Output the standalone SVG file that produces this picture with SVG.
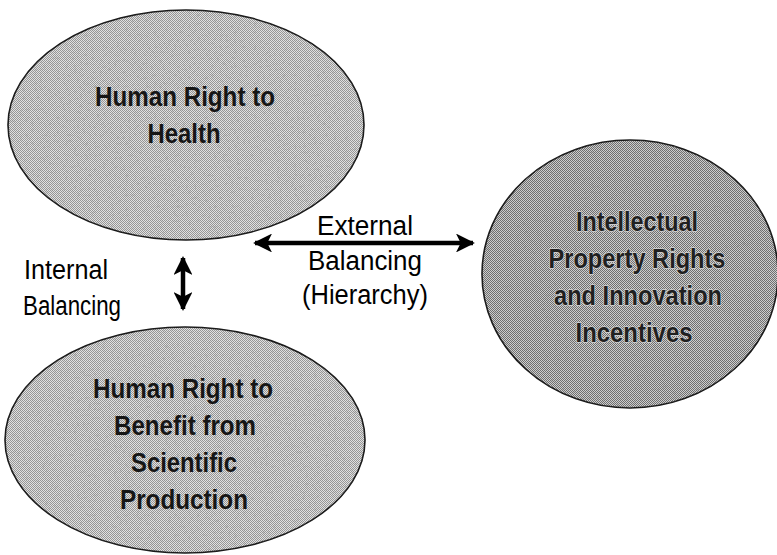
<svg xmlns="http://www.w3.org/2000/svg" width="777" height="555" viewBox="0 0 777 555">
  <defs>
    <pattern id="ditherLight" width="2" height="2" patternUnits="userSpaceOnUse">
      <rect width="2" height="2" fill="#e2e2e2"/>
      <rect x="0" y="0" width="1" height="1" fill="#969696"/>
      <rect x="1" y="1" width="1" height="1" fill="#969696"/>
    </pattern>
    <pattern id="ditherDark" width="2" height="2" patternUnits="userSpaceOnUse">
      <rect width="2" height="2" fill="#cfcfcf"/>
      <rect x="0" y="0" width="1" height="1" fill="#6e6e6e"/>
      <rect x="1" y="1" width="1" height="1" fill="#6e6e6e"/>
    </pattern>
    <filter id="grain" x="0" y="0" width="1" height="1">
      <feTurbulence type="fractalNoise" baseFrequency="0.35" numOctaves="2" seed="5" result="n"/>
      <feColorMatrix in="n" type="matrix" values="0 0 0 0 0.25  0 0 0 0 0.25  0 0 0 0 0.25  0 0 0 1.6 -0.85" result="m"/>
      <feComposite in="m" in2="SourceGraphic" operator="in"/>
    </filter>
    <marker id="head" viewBox="0 0 10 10" refX="9" refY="5" markerWidth="5" markerHeight="4.2" markerUnits="strokeWidth" orient="auto-start-reverse">
      <path d="M0,0 L10,5 L0,10 L2.5,5 Z" fill="#000"/>
    </marker>
  </defs>
  <style>
    .ell { stroke: #1a1a1a; stroke-width: 1.6; }
    .node { font-family: "Liberation Sans", Arial, sans-serif; font-weight: bold; font-size: 27px; fill: #161616; text-anchor: middle; }
    .dark { stroke: #d4d4d4; stroke-width: 1.4; paint-order: stroke; fill: #202020; }
    .lbl { font-family: "Liberation Sans", Arial, sans-serif; font-size: 27px; fill: #000; }
    .conn { stroke: #000; stroke-width: 4.5; fill: none; marker-start: url(#head); marker-end: url(#head); }
  </style>
  <rect width="777" height="555" fill="#fff"/>

  <g id="node-health">
    <ellipse class="ell" cx="186" cy="125" rx="178" ry="115" fill="url(#ditherLight)"/>
    <ellipse cx="186" cy="125" rx="178" ry="115" fill="#000" filter="url(#grain)" opacity="0.6"/>
    <text class="node" x="185" y="106" textLength="180" lengthAdjust="spacingAndGlyphs">Human Right to</text>
    <text class="node" x="184" y="143" textLength="73" lengthAdjust="spacingAndGlyphs">Health</text>
  </g>

  <g id="node-science">
    <ellipse class="ell" cx="185" cy="440" rx="180" ry="113" fill="url(#ditherLight)"/>
    <ellipse cx="185" cy="440" rx="180" ry="113" fill="#000" filter="url(#grain)" opacity="0.6"/>
    <text class="node" x="183" y="398" textLength="180" lengthAdjust="spacingAndGlyphs">Human Right to</text>
    <text class="node" x="185" y="435" textLength="142" lengthAdjust="spacingAndGlyphs">Benefit from</text>
    <text class="node" x="184" y="472" textLength="106" lengthAdjust="spacingAndGlyphs">Scientific</text>
    <text class="node" x="184" y="509" textLength="128" lengthAdjust="spacingAndGlyphs">Production</text>
  </g>

  <g id="node-ip">
    <ellipse class="ell" cx="630" cy="274" rx="148" ry="134" fill="url(#ditherDark)"/>
    <ellipse cx="630" cy="274" rx="148" ry="134" fill="#000" filter="url(#grain)" opacity="0.8"/>
    <text class="node dark" x="637" y="231" textLength="122" lengthAdjust="spacingAndGlyphs">Intellectual</text>
    <text class="node dark" x="637" y="268" textLength="177" lengthAdjust="spacingAndGlyphs">Property Rights</text>
    <text class="node dark" x="638" y="305" textLength="168" lengthAdjust="spacingAndGlyphs">and Innovation</text>
    <text class="node dark" x="634" y="342" textLength="117" lengthAdjust="spacingAndGlyphs">Incentives</text>
  </g>

  <g id="connectors">
    <line class="conn" x1="255" y1="243" x2="473" y2="243"/>
    <line class="conn" x1="183" y1="258" x2="183" y2="309"/>
  </g>

  <g id="labels">
    <text class="lbl" x="365" y="235" text-anchor="middle" textLength="96" lengthAdjust="spacingAndGlyphs">External</text>
    <text class="lbl" x="365" y="270" text-anchor="middle" textLength="114" lengthAdjust="spacingAndGlyphs">Balancing</text>
    <text class="lbl" x="365" y="304" text-anchor="middle" textLength="126" lengthAdjust="spacingAndGlyphs">(Hierarchy)</text>
    <text class="lbl" x="24" y="279" textLength="84" lengthAdjust="spacingAndGlyphs">Internal</text>
    <text class="lbl" x="23" y="315" textLength="98" lengthAdjust="spacingAndGlyphs">Balancing</text>
  </g>
</svg>
